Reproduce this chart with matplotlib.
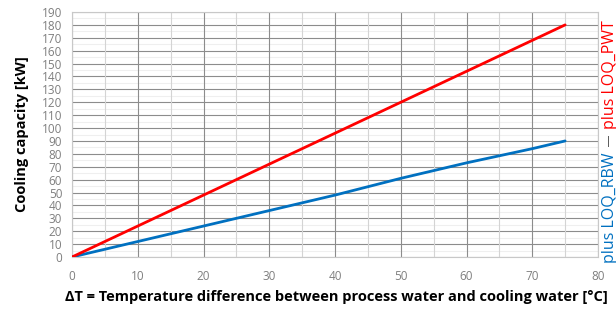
import matplotlib.pyplot as plt
from matplotlib.ticker import MultipleLocator, FixedLocator

# data
delta_t = [0, 10, 20, 30, 40, 50, 60, 70, 75]
capacity_pwt = [0, 24, 48, 72, 96, 120, 144, 168, 180]
capacity_rbw = [0, 12, 24, 36, 48, 61, 73, 84, 90]

x_label = "ΔT = Temperature difference between process water and cooling water [°C]"
y_label = "Cooling capacity [kW]"
label_rbw = "plus LOQ_RBW"
label_pwt = "plus LOQ_PWT"

plt.rcParams['font.family'] = ['Open Sans', 'DejaVu Sans']

fig = plt.figure(figsize=(6.16, 3.10), dpi=100)
ax = fig.add_axes([72 / 616, 53 / 310, 526 / 616, 245 / 310])

ax.plot(delta_t, capacity_rbw, color='#0070C0', lw=2, solid_capstyle='round', zorder=3)
ax.plot(delta_t, capacity_pwt, color='#FF0000', lw=2, solid_capstyle='round', zorder=3)

ax.set_xlim(0, 80)
ax.set_ylim(0, 190)
ax.xaxis.set_major_locator(MultipleLocator(10))
ax.xaxis.set_minor_locator(FixedLocator([5 + 10 * i for i in range(8)]))
ax.yaxis.set_major_locator(MultipleLocator(10))
ax.yaxis.set_minor_locator(FixedLocator([5 + 10 * i for i in range(19)]))

ax.grid(which='major', axis='both', color='#8c8c8c', lw=0.8)
ax.grid(which='minor', axis='x', color='#d4d4d4', lw=0.8)
ax.grid(which='minor', axis='y', color='#efefef', lw=0.8)
ax.set_axisbelow(True)
# vertical grid on top of the dense horizontal one so it stays solid
ax.yaxis.set_zorder(0.5)
ax.xaxis.set_zorder(0.6)

for s in ax.spines.values():
    s.set_color('#c8c8c8')
    s.set_linewidth(0.8)

ax.tick_params(which='both', length=0, labelsize=8.5, labelcolor='#7f7f7f')
ax.tick_params(axis='x', pad=9)
ax.tick_params(axis='y', pad=7)

ax.set_xlabel(x_label, fontsize=10.5, fontweight='bold', labelpad=3)
ax.xaxis.set_label_coords(0.502, -0.135)
ax.set_ylabel(y_label, fontsize=10.5, fontweight='bold', labelpad=9)

# series labels rotated on the right edge
fig.text(609.5 / 616, 1 - 263 / 310, label_rbw, rotation=90, color='#0070C0',
         fontsize=11.5, ha='center', va='bottom')
fig.text(608 / 616, 1 - 142 / 310, "|", color='black',
         fontsize=7, ha='center', va='center')
fig.text(609.5 / 616, 1 - 20 / 310, label_pwt, rotation=90, color='#FF0000',
         fontsize=11.5, ha='center', va='top')

fig.savefig('out.png', dpi=100)
